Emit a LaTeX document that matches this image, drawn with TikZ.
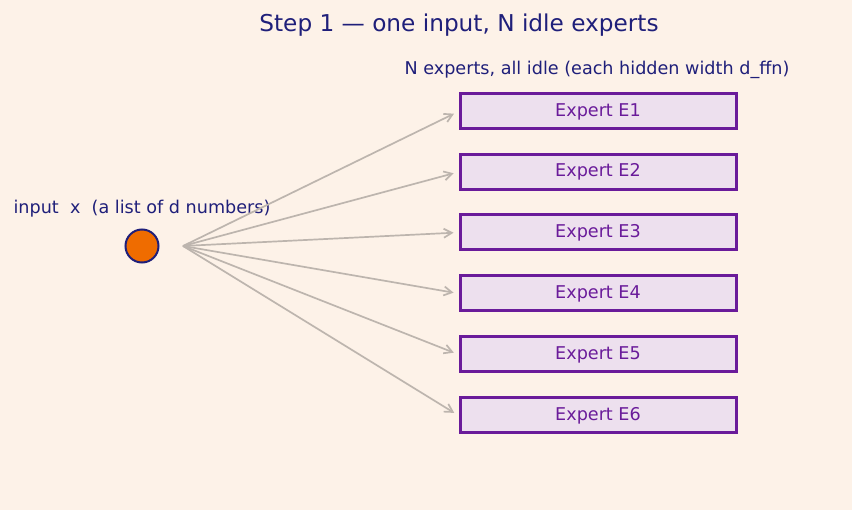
\documentclass[tikz,border=0pt]{standalone}
\usepackage{fontspec}
\setmainfont{DejaVu Sans}
\usepackage{tikz}
\usetikzlibrary{arrows.meta}
\definecolor{bgcream}{HTML}{FDF2E8}
\definecolor{navytxt}{HTML}{1F1F7A}
\definecolor{expline}{HTML}{6A1B9A}
\definecolor{expfill}{HTML}{EDE0EE}
\definecolor{inorange}{HTML}{EF6C00}
\definecolor{arrgray}{HTML}{BDB5AE}
\tikzset{
  expertbox/.style={draw=expline,line width=3pt,fill=expfill,minimum width=276pt,minimum height=35pt,inner sep=0pt,text=expline,font=\fontsize{17.6}{20}\selectfont},
  feed/.style={-{Straight Barb[length=8pt,width=9pt]},draw=arrgray,line width=1.7pt,shorten >=5pt}
}
\begin{document}
\begin{tikzpicture}[x=1pt,y=-1pt]
				% the canvas
				\fill[bgcream] (0,0) rectangle (852,510);
				\useasboundingbox (0,0) rectangle (852,510);
				% titles
				\node[text=navytxt,font=\fontsize{23.2}{26}\selectfont] (title) at (459,25.5) {Step 1 — one input, N idle experts};
				\node[text=navytxt,font=\fontsize{17.6}{20}\selectfont] (sub) at (597,69.5) {N experts, all idle (each hidden width d\_ffn)};
				% the input token
				\node[circle,draw=navytxt,line width=2pt,fill=inorange,minimum size=33pt,inner sep=0pt] (x) at (142,246) {};
				\node[text=navytxt,font=\fontsize{17.6}{20}\selectfont] (xlab) at (142,208.5) {input~~x~~(a list of d numbers)};
				\coordinate (src) at (183,246);
				% the experts
				\foreach \i/\y in {1/111.5,2/172,3/232.5,4/293.5,5/354.5,6/415.5} {
					\node[expertbox] (e\i) at (598,\y) {Expert E\i};
					\draw[feed] (src) -- (e\i.west);
				}
			\end{tikzpicture}
\end{document}
